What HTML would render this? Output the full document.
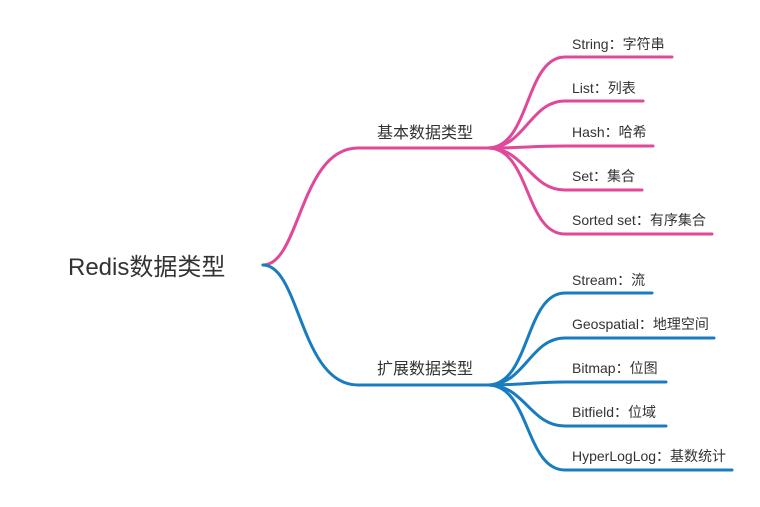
<!DOCTYPE html>
<html><head><meta charset="utf-8"><style>
body{margin:0;background:#fff}
svg text{font-family:"Liberation Sans","Noto Sans CJK SC",sans-serif;fill:#333}
</style></head><body>
<svg width="760" height="502" viewBox="0 0 760 502" xmlns="http://www.w3.org/2000/svg">
<g fill="none" stroke-width="3" stroke-linecap="round">
<g stroke="#e0489a">
<path d="M263 265 C300 265 300 148 358 148 L488 148"/>
<path d="M488 148 C530 148 525 57 565 57 L672 57"/>
<path d="M488 148 C525 148 530 101 565 101 L643 101"/>
<path d="M488 148 C525 148 530 146 565 146 L653 146"/>
<path d="M488 148 C525 148 530 190 565 190 L642 190"/>
<path d="M488 148 C530 148 525 234 565 234 L712 234"/>
</g>
<g stroke="#1a7cc0">
<path d="M263 265 C300 265 300 385 358 385 L488 385"/>
<path d="M488 385 C530 385 525 293 565 293 L652 293"/>
<path d="M488 385 C525 385 530 338 565 338 L714 338"/>
<path d="M488 385 C525 385 530 382 565 382 L666 382"/>
<path d="M488 385 C525 385 530 426 565 426 L666 426"/>
<path d="M488 385 C530 385 525 470 565 470 L732 470"/>
</g>
</g>
<text x="68" y="275" font-size="24">Redis数据类型</text>
<text x="377" y="138" font-size="16">基本数据类型</text>
<text x="377" y="374" font-size="16">扩展数据类型</text>
<g font-size="14">
<text x="572" y="49">String：字符串</text>
<text x="572" y="93">List：列表</text>
<text x="572" y="137">Hash：哈希</text>
<text x="572" y="181">Set：集合</text>
<text x="572" y="225">Sorted set：有序集合</text>
<text x="572" y="285">Stream：流</text>
<text x="572" y="329">Geospatial：地理空间</text>
<text x="572" y="373">Bitmap：位图</text>
<text x="572" y="417">Bitfield：位域</text>
<text x="572" y="461">HyperLogLog：基数统计</text>
</g>
</svg>
</body></html>
